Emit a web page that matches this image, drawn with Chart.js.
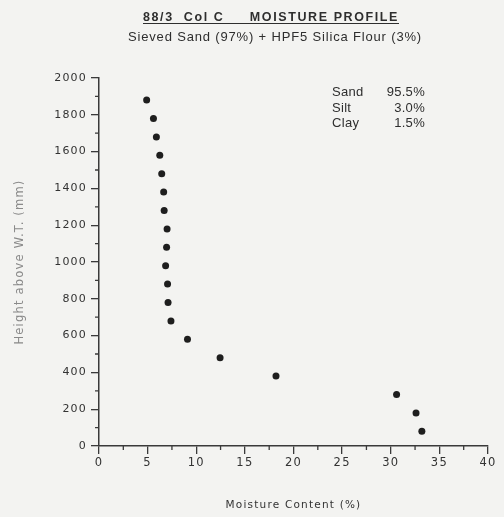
<!DOCTYPE html>
<html><head><meta charset="utf-8">
<script src="https://cdn.jsdelivr.net/npm/chart.js@4/dist/chart.umd.min.js"></script>
<style>html,body{margin:0;padding:0;background:#f3f3f1;}canvas{display:block}</style>
</head><body>
<canvas id="c" width="504" height="517"></canvas>
<script>
const titleText = '88/3  Col C     MOISTURE PROFILE';
const subtitleText = 'Sieved Sand (97%) + HPF5 Silica Flour (3%)';
const xAxisTitle = 'Moisture Content (%)';
const yAxisTitle = 'Height above W.T. (mm)';
const compositionLabels = ['Sand', 'Silt', 'Clay'];
const compositionValues = ['95.5%', '3.0%', '1.5%'];
const moisture = [4.9, 5.6, 5.9, 6.25, 6.45, 6.65, 6.7, 7.0, 6.95, 6.85, 7.05, 7.1, 7.4, 9.1, 12.45, 18.2, 30.6, 32.6, 33.2];
const height = [1880, 1780, 1680, 1580, 1480, 1380, 1280, 1180, 1080, 980, 880, 780, 680, 580, 480, 380, 280, 180, 80];
const xTicks = [0, 5, 10, 15, 20, 25, 30, 35, 40];
const yTicks = [0, 200, 400, 600, 800, 1000, 1200, 1400, 1600, 1800, 2000];

const ink = '#2e2e2e';
const points = moisture.map((m, i) => ({x: m, y: height[i]}));

function fitText(ctx, text, x, y, target) {
  ctx.letterSpacing = '0px';
  const w = ctx.measureText(text).width;
  const sp = Math.max(0, (target - w) / text.length);
  ctx.letterSpacing = sp + 'px';
  ctx.textAlign = 'left';
  ctx.fillText(text, x, y);
  return w + sp * text.length;
}

const decor = {
  id: 'decor',
  beforeDraw(chart) {
    chart.ctx.letterSpacing = '1.2px';
  },
  afterDraw(chart) {
    const ctx = chart.ctx;
    const xs = chart.scales.x, ys = chart.scales.y;
    ctx.save();
    // minor ticks
    ctx.strokeStyle = '#3a3a3a';
    ctx.lineWidth = 1.3;
    ctx.beginPath();
    for (let i = 0; i < xTicks.length - 1; i++) {
      const px = xs.getPixelForValue((xTicks[i] + xTicks[i + 1]) / 2);
      ctx.moveTo(px, xs.top); ctx.lineTo(px, xs.top + 4);
    }
    for (let i = 0; i < yTicks.length - 1; i++) {
      const py = ys.getPixelForValue((yTicks[i] + yTicks[i + 1]) / 2);
      ctx.moveTo(ys.right, py); ctx.lineTo(ys.right - 4, py);
    }
    ctx.stroke();
    // title
    ctx.fillStyle = ink;
    ctx.textBaseline = 'alphabetic';
    ctx.font = 'bold 12.5px "Liberation Sans", Arial, sans-serif';
    const tw = fitText(ctx, titleText, 143, 21, 256);
    ctx.lineWidth = 1;
    ctx.strokeStyle = ink;
    ctx.beginPath();
    ctx.moveTo(143, 23.5); ctx.lineTo(143 + tw, 23.5);
    ctx.stroke();
    ctx.font = '13px "Liberation Sans", Arial, sans-serif';
    fitText(ctx, subtitleText, 128, 41, 294);
    // composition
    ctx.letterSpacing = '0.3px';
    ctx.font = '13px "Liberation Sans", Arial, sans-serif';
    for (let i = 0; i < compositionLabels.length; i++) {
      const y = 96 + i * 15.5;
      ctx.textAlign = 'left';
      ctx.fillText(compositionLabels[i], 332, y);
      ctx.textAlign = 'right';
      ctx.fillText(compositionValues[i], 425, y);
    }
    ctx.restore();
  }
};

new Chart(document.getElementById('c'), {
  type: 'scatter',
  data: {
    datasets: [{
      data: points,
      backgroundColor: '#1e1e1e',
      borderColor: '#1e1e1e',
      pointRadius: 3.5,
      pointHoverRadius: 3.5,
      borderWidth: 0
    }]
  },
  options: {
    responsive: false,
    animation: false,
    events: [],
    layout: {padding: {top: 78, right: 16, bottom: 0, left: 10}},
    plugins: {legend: {display: false}, tooltip: {enabled: false}, title: {display: false}},
    scales: {
      x: {
        type: 'linear', min: 0, max: 40,
        afterBuildTicks: s => { s.ticks = xTicks.map(v => ({value: v})); },
        afterFit: s => { s.height = 71; },
        grid: {drawOnChartArea: false, tickLength: 8, color: '#3a3a3a', lineWidth: 1.3},
        border: {display: true, color: '#3a3a3a', width: 1.5},
        ticks: {color: '#333', padding: 2, maxRotation: 0, callback: v => String(v), font: {family: '"DejaVu Sans", sans-serif', size: 11.5}},
        title: {display: true, text: xAxisTitle, color: '#333', padding: {top: 0, bottom: 5}, font: {family: '"DejaVu Sans", sans-serif', size: 10.5}}
      },
      y: {
        type: 'linear', min: 0, max: 2000,
        afterBuildTicks: s => { s.ticks = yTicks.map(v => ({value: v})); },
        afterFit: s => { s.width = 89; },
        grid: {drawOnChartArea: false, tickLength: 8, color: '#3a3a3a', lineWidth: 1.3},
        border: {display: true, color: '#3a3a3a', width: 1.5},
        ticks: {color: '#333', padding: 4, callback: v => String(v), font: {family: '"DejaVu Sans", sans-serif', size: 11}},
        title: {display: true, text: yAxisTitle, color: '#8a8a8a', padding: {top: 3, bottom: 0}, font: {family: '"DejaVu Sans", sans-serif', size: 11.5}}
      }
    }
  },
  plugins: [decor]
});
</script>
</body></html>
